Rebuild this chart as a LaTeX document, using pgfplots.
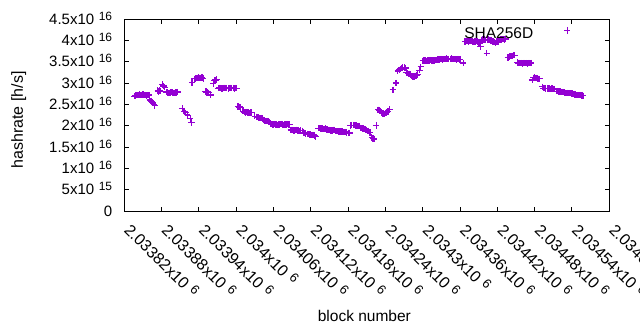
\documentclass[border=0pt]{standalone}
\usepackage{pgfplots}
\pgfplotsset{compat=1.18}
\usepackage{pgfplotstable}
\usepackage{fontspec}
\setmainfont{Liberation Sans}
\definecolor{gpviolet}{HTML}{9400D3}
\newcommand{\sci}[2]{#1x10\hspace{4.5pt}\raisebox{4pt}{\fontsize{12}{12}\selectfont #2}}
\newcommand{\scix}[2]{#1x10\hspace{5pt}\raisebox{4.5pt}{\fontsize{13}{14}\selectfont #2}}

\pgfplotstableread{
block hashrate
2033836 2.69e16
2033838 2.71e16
2033840 2.72e16
2033842 2.72e16
2033844 2.73e16
2033846 2.72e16
2033848 2.72e16
2033850 2.73e16
2033852 2.72e16
2033854 2.72e16
2033856 2.71e16
2033858 2.72e16
2033860 2.72e16
2033861 2.60e16
2033863 2.58e16
2033865 2.55e16
2033866 2.53e16
2033868 2.50e16
2033869 2.47e16
2033874 2.82e16
2033875 2.80e16
2033876 2.81e16
2033877 2.83e16
2033878 2.81e16
2033881 2.97e16
2033883 2.93e16
2033885 2.90e16
2033888 2.79e16
2033890 2.78e16
2033892 2.77e16
2033894 2.78e16
2033896 2.79e16
2033898 2.78e16
2033900 2.77e16
2033902 2.78e16
2033904 2.78e16
2033906 2.79e16
2033913 2.40e16
2033916 2.34e16
2033919 2.30e16
2033921 2.27e16
2033922 2.23e16
2033926 2.17e16
2033928 2.07e16
2033929 3.01e16
2033933 3.10e16
2033935 3.11e16
2033937 3.12e16
2033939 3.13e16
2033941 3.12e16
2033943 3.12e16
2033945 3.13e16
2033947 3.11e16
2033950 2.80e16
2033951 2.79e16
2033952 2.80e16
2033953 2.78e16
2033954 2.79e16
2033956 2.77e16
2033959 2.72e16
2033963 2.98e16
2033965 3.05e16
2033966 3.07e16
2033967 3.06e16
2033968 3.08e16
2033971 2.88e16
2033973 2.89e16
2033975 2.88e16
2033977 2.87e16
2033979 2.88e16
2033981 2.89e16
2033983 2.88e16
2033985 2.88e16
2033987 2.87e16
2033989 2.88e16
2033991 2.89e16
2033993 2.88e16
2033995 2.88e16
2033997 2.87e16
2033999 2.88e16
2034001 2.88e16
2034003 2.45e16
2034005 2.44e16
2034007 2.43e16
2034011 2.34e16
2034013 2.32e16
2034015 2.31e16
2034017 2.32e16
2034019 2.31e16
2034021 2.30e16
2034023 2.31e16
2034025 2.31e16
2034030 2.22e16
2034032 2.21e16
2034034 2.20e16
2034036 2.19e16
2034038 2.18e16
2034040 2.18e16
2034042 2.17e16
2034044 2.14e16
2034046 2.12e16
2034048 2.11e16
2034050 2.11e16
2034052 2.10e16
2034054 2.09e16
2034056 2.04e16
2034058 2.03e16
2034060 2.03e16
2034062 2.04e16
2034064 2.03e16
2034066 2.02e16
2034068 2.03e16
2034070 2.03e16
2034072 2.04e16
2034074 2.03e16
2034076 2.02e16
2034078 2.03e16
2034080 2.03e16
2034082 2.04e16
2034084 2.03e16
2034086 2.03e16
2034088 1.90e16
2034090 1.90e16
2034092 1.89e16
2034094 1.89e16
2034096 1.90e16
2034098 1.89e16
2034100 1.89e16
2034102 1.88e16
2034104 1.89e16
2034106 1.88e16
2034108 1.84e16
2034110 1.83e16
2034112 1.82e16
2034114 1.81e16
2034116 1.80e16
2034118 1.79e16
2034120 1.79e16
2034122 1.78e16
2034124 1.78e16
2034126 1.77e16
2034128 1.74e16
2034132 1.94e16
2034134 1.94e16
2034136 1.93e16
2034138 1.93e16
2034140 1.92e16
2034142 1.92e16
2034144 1.93e16
2034146 1.91e16
2034148 1.90e16
2034150 1.90e16
2034152 1.89e16
2034154 1.89e16
2034156 1.90e16
2034158 1.90e16
2034160 1.87e16
2034162 1.87e16
2034164 1.86e16
2034166 1.86e16
2034168 1.86e16
2034170 1.86e16
2034172 1.85e16
2034174 1.85e16
2034176 1.85e16
2034178 1.84e16
2034180 1.83e16
2034182 1.83e16
2034184 2.00e16
2034186 2.01e16
2034188 2.01e16
2034190 2.01e16
2034192 2.00e16
2034194 2.00e16
2034196 1.99e16
2034198 1.99e16
2034200 1.95e16
2034202 1.94e16
2034204 1.93e16
2034206 1.92e16
2034208 1.91e16
2034210 1.90e16
2034212 1.88e16
2034215 1.84e16
2034218 1.72e16
2034220 1.70e16
2034222 1.69e16
2034225 2.00e16
2034228 2.37e16
2034229 2.37e16
2034230 2.36e16
2034232 2.35e16
2034234 2.30e16
2034236 2.29e16
2034238 2.28e16
2034240 2.30e16
2034242 2.31e16
2034244 2.33e16
2034247 2.38e16
2034252 2.84e16
2034257 3.00e16
2034260 3.28e16
2034262 3.31e16
2034264 3.33e16
2034266 3.35e16
2034268 3.36e16
2034270 3.36e16
2034272 3.35e16
2034274 3.25e16
2034276 3.23e16
2034278 3.21e16
2034280 3.20e16
2034282 3.17e16
2034284 3.15e16
2034286 3.15e16
2034288 3.16e16
2034290 3.18e16
2034292 3.20e16
2034295 3.30e16
2034297 3.38e16
2034300 3.52e16
2034302 3.53e16
2034304 3.53e16
2034306 3.52e16
2034308 3.53e16
2034310 3.53e16
2034312 3.54e16
2034314 3.53e16
2034316 3.53e16
2034318 3.53e16
2034320 3.54e16
2034322 3.54e16
2034324 3.55e16
2034326 3.55e16
2034328 3.56e16
2034330 3.56e16
2034332 3.55e16
2034334 3.56e16
2034336 3.56e16
2034338 3.57e16
2034340 3.56e16
2034342 3.56e16
2034344 3.56e16
2034346 3.57e16
2034348 3.56e16
2034350 3.56e16
2034352 3.56e16
2034354 3.55e16
2034356 3.56e16
2034358 3.56e16
2034360 3.55e16
2034365 3.47e16
2034368 3.97e16
2034370 3.98e16
2034372 3.98e16
2034374 3.97e16
2034376 3.98e16
2034378 3.98e16
2034380 3.97e16
2034382 3.96e16
2034384 3.97e16
2034386 3.98e16
2034388 3.97e16
2034390 3.95e16
2034392 3.93e16
2034393 3.86e16
2034395 4.01e16
2034397 4.02e16
2034399 4.02e16
2034401 4.01e16
2034403 3.70e16
2034405 4.02e16
2034407 4.01e16
2034409 4.00e16
2034411 4.00e16
2034413 3.97e16
2034415 3.96e16
2034417 3.94e16
2034419 3.97e16
2034421 3.97e16
2034423 4.01e16
2034425 4.02e16
2034427 4.02e16
2034429 4.03e16
2034431 4.02e16
2034433 4.03e16
2034437 3.60e16
2034440 3.62e16
2034442 3.63e16
2034444 3.64e16
2034446 3.65e16
2034448 3.65e16
2034452 3.48e16
2034454 3.47e16
2034456 3.47e16
2034458 3.47e16
2034460 3.46e16
2034462 3.47e16
2034464 3.47e16
2034466 3.47e16
2034468 3.46e16
2034470 3.47e16
2034472 3.47e16
2034474 3.47e16
2034476 3.07e16
2034478 3.12e16
2034480 3.13e16
2034482 3.12e16
2034484 3.11e16
2034486 3.10e16
2034488 3.10e16
2034492 2.91e16
2034494 2.88e16
2034496 2.88e16
2034498 2.87e16
2034500 2.87e16
2034502 2.87e16
2034504 2.87e16
2034506 2.86e16
2034508 2.87e16
2034510 2.86e16
2034512 2.86e16
2034516 2.81e16
2034518 2.80e16
2034520 2.80e16
2034522 2.80e16
2034524 2.79e16
2034526 2.79e16
2034528 2.78e16
2034530 2.77e16
2034532 2.77e16
2034534 2.76e16
2034536 2.76e16
2034538 2.76e16
2034540 2.75e16
2034542 2.74e16
2034544 2.73e16
2034546 2.73e16
2034548 2.72e16
2034550 2.72e16
2034552 2.72e16
2034554 2.72e16
2034556 2.71e16
2034558 2.70e16
}\hashdata

\begin{document}
\begin{tikzpicture}
\begin{axis}[
  scale only axis,
  width=485pt, height=192pt,
  xmin=2033820, xmax=2034600,
  ymin=0, ymax=4.5e16,
  axis line style={black, line width=1pt},
  tick style={black, line width=1pt},
  major tick length=4.5pt,
  tick align=inside,
  xtick={2033820,2033880,2033940,2034000,2034060,2034120,2034180,2034240,2034300,2034360,2034420,2034480,2034540,2034600},
  xticklabels={\scix{2.03382}{6},\scix{2.03388}{6},\scix{2.03394}{6},\scix{2.034}{6},\scix{2.03406}{6},\scix{2.03412}{6},\scix{2.03418}{6},\scix{2.03424}{6},\scix{2.0343}{6},\scix{2.03436}{6},\scix{2.03442}{6},\scix{2.03448}{6},\scix{2.03454}{6},\scix{2.0346}{6}},
  ytick={0,5e15,1e16,1.5e16,2e16,2.5e16,3e16,3.5e16,4e16,4.5e16},
  yticklabels={0,\sci{5}{15},\sci{1}{16},\sci{1.5}{16},\sci{2}{16},\sci{2.5}{16},\sci{3}{16},\sci{3.5}{16},\sci{4}{16},\sci{4.5}{16}},
  scaled x ticks=false, scaled y ticks=false,
  xticklabel style={font=\fontsize{16}{18}\selectfont, xshift=-1pt, yshift=-20pt, rotate=-45, anchor=base west, inner sep=0pt},
  yticklabel style={font=\fontsize{15}{18}\selectfont, anchor=base east, inner sep=0pt, xshift=-12pt, yshift=-5.3pt},
  xlabel={block number},
  ylabel={hashrate [h/s]},
  xlabel style={font=\fontsize{15.5}{18}\selectfont, at={(axis description cs:0.495,-0.573)}, anchor=base, inner sep=0pt},
  ylabel style={font=\fontsize{16}{18}\selectfont, at={(axis description cs:-0.2089,0.474)}, anchor=base, inner sep=0pt},
  legend plot pos=right,
  legend style={draw=none, fill=none, font=\fontsize{15.5}{18}\selectfont, at={(axis description cs:0.9204,0.925)}, anchor=east, inner sep=0pt, column sep=0pt, nodes={inner sep=0pt}},
  legend image code/.code={\path[draw=none] (0pt,0pt) rectangle (30pt,1pt); \draw[#1] plot coordinates {(34pt,3pt)};},
]
\addplot[only marks, mark=+, mark size=3.2pt, color=gpviolet, line width=1.2pt] table[x=block, y=hashrate] {\hashdata};
\addlegendentry{SHA256D}
\coordinate (bbl) at (axis description cs:-0.2563,-0.6198);
\coordinate (btr) at (axis description cs:1.0633,1.0990);
\end{axis}
\pgfresetboundingbox
\useasboundingbox (bbl) rectangle (btr);
\end{tikzpicture}
\end{document}
